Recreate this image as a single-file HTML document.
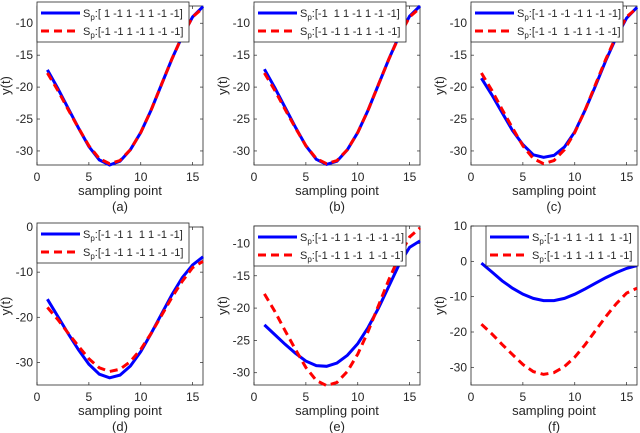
<!DOCTYPE html>
<html><head><meta charset="utf-8"><style>
body{margin:0;background:#fff;}
svg{display:block;font-family:"Liberation Sans",sans-serif;}
</style></head><body>
<svg id="fig" width="640" height="433"></svg>
<script>
const xs=[1,2,3,4,5,6,7,8,9,10,11,12,13,14,15,16];
const redBase=[-17.8,-20.5,-23.5,-26.4,-29.2,-31.2,-32,-31.5,-29.8,-27.1,-23.6,-19.6,-15.6,-12,-9,-7.6];
const blueA=[-17.3,-20.2,-23.3,-26.4,-29.3,-31.4,-32.2,-31.6,-29.8,-27.1,-23.6,-19.6,-15.6,-12,-9,-7.4];
const blueB=[-17.2,-20.1,-23.2,-26.3,-29.2,-31.3,-32.1,-31.6,-29.8,-27.1,-23.6,-19.6,-15.6,-11.9,-8.9,-7.3];
const blueC=[-18.6,-21.2,-24,-26.8,-29,-30.6,-31,-30.7,-29.4,-27,-23.6,-19.8,-15.8,-12.2,-9.2,-7.5];
const blueD=[-16,-19.8,-23.6,-27.2,-30.4,-32.6,-33.4,-32.8,-30.8,-27.6,-23.6,-19.3,-15,-11.2,-8.4,-6.6];
const blueE=[-22.6,-24.1,-25.6,-27,-28.2,-28.9,-29,-28.5,-27.3,-25.5,-23,-20,-16.6,-13.2,-10.6,-9.6];
const blueF=[-0.5,-3,-5.5,-7.6,-9.3,-10.5,-11.1,-11.1,-10.5,-9.3,-7.8,-6.2,-4.6,-3.2,-2,-1.2];
const panels=[
 {id:'a',x0:37,y0:6,yl:[-32.2,-7.3],yt:[-30,-25,-20,-15,-10],blue:blueA,lb:'[ 1 -1 1 -1 1 -1 -1]',lr:'[-1 -1 1 -1 1 -1 -1]'},
 {id:'b',x0:254,y0:6,yl:[-32.2,-7.3],yt:[-30,-25,-20,-15,-10],blue:blueB,lb:'[-1  1 1 -1 1 -1 -1]',lr:'[-1 -1 1 -1 1 -1 -1]'},
 {id:'c',x0:471,y0:6,yl:[-32.2,-7.3],yt:[-30,-25,-20,-15,-10],blue:blueC,lb:'[-1 -1 -1 -1 1 -1 -1]',lr:'[-1 -1  1 -1 1 -1 -1]'},
 {id:'d',x0:37,y0:227,yl:[-35,0],yt:[-30,-20,-10,0],blue:blueD,lb:'[-1 -1 1  1 1 -1 -1]',lr:'[-1 -1 1 -1 1 -1 -1]'},
 {id:'e',x0:254,y0:226,yl:[-31.9,-7.3],yt:[-30,-25,-20,-15,-10],blue:blueE,lb:'[-1 -1 1 -1 -1 -1 -1]',lr:'[-1 -1 1 -1  1 -1 -1]'},
 {id:'f',x0:471,y0:226,yl:[-35,10],yt:[-30,-20,-10,0,10],blue:blueF,lb:'[-1 -1 1 -1 1  1 -1]',lr:'[-1 -1 1 -1 1 -1 -1]',lx:486},
];
const xt=[0,5,10,15];
const NS='http://www.w3.org/2000/svg';
const svg=document.getElementById('fig');
function mk(tag,attrs,parent,txt){const e=document.createElementNS(NS,tag);for(const k in attrs)e.setAttribute(k,attrs[k]);if(txt!==undefined)e.textContent=txt;(parent||svg).appendChild(e);return e;}
panels.forEach(p=>{
 const W=166,H=p.id==='d'?158:159, y1=p.y0+H;
 const g=mk('g',{});
 
 
 const sx=v=>p.x0+v/16*W;
 const sy=v=>y1-(v-p.yl[0])/(p.yl[1]-p.yl[0])*H;
 const box=mk('rect',{x:p.x0,y:p.y0,width:W,height:H,fill:'#fff',stroke:'#262626','stroke-width':0.8},g);
 
 
 xt.forEach(t=>{
  mk('line',{x1:sx(t),x2:sx(t),y1:y1,y2:y1-3,stroke:'#262626','stroke-width':0.7},g);
  mk('line',{x1:sx(t),x2:sx(t),y1:p.y0,y2:p.y0+3,stroke:'#262626','stroke-width':0.7},g);
  const tl=mk('text',{x:sx(t),y:y1+16,'font-size':12,fill:'#262626','text-anchor':'middle'},g,String(t));
  
  
 });
 p.yt.forEach(t=>{
  mk('line',{x1:p.x0,x2:p.x0+3,y1:sy(t),y2:sy(t),stroke:'#262626','stroke-width':0.7},g);
  mk('line',{x1:p.x0+W,x2:p.x0+W-3,y1:sy(t),y2:sy(t),stroke:'#262626','stroke-width':0.7},g);
  const tl=mk('text',{x:p.x0-4,y:sy(t)+4,'font-size':12,fill:'#262626','text-anchor':'end'},g,String(t));
  
  
 });
 const pts=arr=>arr.map((v,i)=>sx(xs[i]).toFixed(1)+','+sy(v).toFixed(1)).join(' ');
 const bl=mk('polyline',{points:pts(p.blue),fill:'none',stroke:'#0000ff','stroke-width':3},g);
 
 
 const rl=mk('polyline',{points:pts(redBase),fill:'none',stroke:'#ff0000','stroke-width':3,'stroke-dasharray':'8,5'},g);
 
 
 const xl=mk('text',{x:p.x0+W/2,y:y1+30,'font-size':13,fill:'#262626','text-anchor':'middle'},g,'sampling point');
 
 
 const cap=mk('text',{x:p.x0+W/2,y:y1+46,'font-size':13,fill:'#262626','text-anchor':'middle'},g,'('+p.id+')');
 
 
 const yl=mk('text',{x:0,y:0,'font-size':13,fill:'#262626','text-anchor':'middle',transform:`translate(${p.x0-27},${p.y0+H/2}) rotate(-90)`},g,'y(t)');
 
 
 const lx=p.lx||p.x0, ly=p.id==='d'?223:(p.y0<100?2:226);
 const lg=mk('g',{},g);
 
 
 mk('rect',{x:lx,y:ly,width:152,height:40,fill:'#fff',stroke:'#262626','stroke-width':0.8},lg);
 [[p.lb,'#0000ff',''],[p.lr,'#ff0000','8,5']].forEach((e,i)=>{
  const yy=ly+11+i*18;
  mk('line',{x1:lx+4,x2:lx+43,y1:yy,y2:yy,stroke:e[1],'stroke-width':3,'stroke-dasharray':e[2]||'none'},lg);
  const t=mk('text',{x:lx+46,y:yy+4,'font-size':11,fill:'#262626','xml:space':'preserve'},lg);
  
  
  t.style.whiteSpace='pre';
  mk('tspan',{},t,'S');
  mk('tspan',{'font-size':8,dy:3},t,'p');
  mk('tspan',{dy:-3},t,':'+e[0]);
 });
});
</script>
</body></html>
